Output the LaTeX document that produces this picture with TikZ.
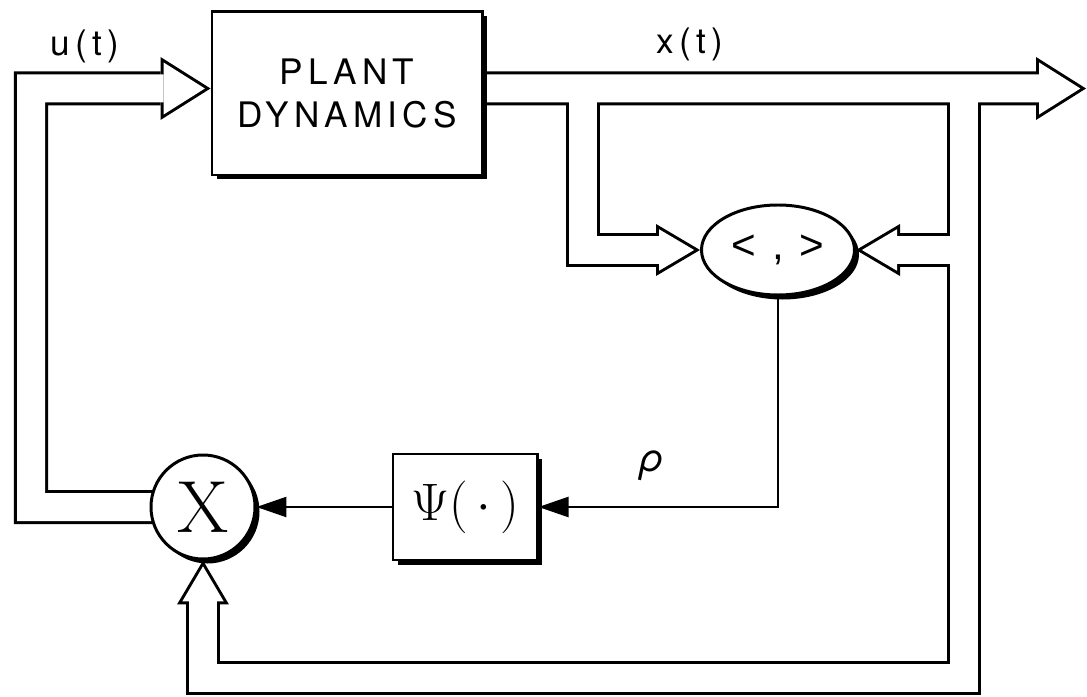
\RequirePackage{fix-cm}
\documentclass[tikz,border=0pt]{standalone}
\usepackage{fontspec}
\newfontfamily\letterfont[LetterSpace=15]{TeX Gyre Heros}
\newfontfamily\greekfont{TeX Gyre Heros}
\newfontfamily\anglefont{Liberation Sans}
\usetikzlibrary{arrows.meta, shapes.geometric, shadows, backgrounds}

\begin{document}
\begin{tikzpicture}[x=0.2mm, y=-0.2mm,
        block/.style={rectangle, draw, line width=1.7pt, fill=white, inner sep=0pt,
            drop shadow={shadow xshift=0.9mm, shadow yshift=-0.9mm, opacity=1, fill=black}},
        junction/.style={block, ellipse},
        mixer/.style={block, circle},
        lettering/.style={font=\letterfont\fontsize{20}{24}\selectfont},
        band/.style={line width=6.8mm, black},
        bandfill/.style={line width=5.6mm, white},
        bighead/.style={-{Triangle[length=10mm, width=12.6mm, line width=0pt]}},
        bigheadfill/.style={-{Triangle[length=8.27mm, width=10.43mm, line width=0pt]}, shorten >=1.13mm},
        smallhead/.style={-{Triangle[length=8.8mm, width=10.4mm, line width=0pt]}},
        smallheadfill/.style={-{Triangle[length=7.02mm, width=8.3mm, line width=0pt]}, shorten >=1.18mm},
        sigline/.style={line width=1.4pt, -{Triangle[length=6mm, width=4mm]}}
    ]
    \useasboundingbox (0,0) rectangle (1087,697);

    % --- blocks ---
    \node[block, minimum width=54mm, minimum height=32.6mm, lettering, align=center] (plant) at (347,93.5) {PLANT\\DYNAMICS};
    \node[junction, minimum width=30.6mm, minimum height=18mm, font=\anglefont\fontsize{24}{28}\selectfont] (inner) at (778,250) {<\hspace{3.2mm},\hspace{3.2mm}>};
    \node[mixer, minimum size=20.8mm, font=\fontsize{42}{42}\selectfont] (mult) at (203,507) {X};
    \node[block, minimum width=28.8mm, minimum height=21.2mm, font=\fontsize{30}{30}\selectfont] (psi) at (465,507) {$\Psi(\,\cdot\,)$};

    % --- labels ---
    \node[lettering] (ulbl) at (85,46) {u(t)};
    \node[lettering] (xlbl) at (690,44) {x(t)};
    \node[font=\greekfont\itshape\fontsize{22}{24}\selectfont] (rholbl) at (652,466) {ρ};

    % --- vector signals (hollow bands) ---
    \coordinate (xout) at (1086,88.5);
    \coordinate (ucorner) at (31,88.5);
    \coordinate (tapA) at (582.5,88.5);
    \coordinate (tapB) at (964,88.5);
    \coordinate (tapC) at (964,250);
    \coordinate (loopbase) at (964,677.5);

    \begin{scope}[on background layer]
        \foreach \bandstyle/\headbig/\headsmall in {band/bighead/smallhead, bandfill/bigheadfill/smallheadfill} {
            \draw[\bandstyle, \headbig] ([yshift=1mm]plant.center) -- (xout);
            \draw[\bandstyle, \headbig] (mult.center) -| (ucorner) -- ([yshift=1mm]plant.west);
            \draw[\bandstyle, \headsmall] (tapA) |- (inner.west);
            \draw[\bandstyle, \headsmall] (tapC) -- (inner.east);
            \draw[\bandstyle, \headsmall] (tapB) -- (loopbase) -| (mult.south);
        }
    \end{scope}

    % --- scalar signals ---
    \draw[sigline] (inner.south) |- (psi.east);
    \draw[sigline] (psi.west) -- (mult.east);

\end{tikzpicture}
\end{document}
